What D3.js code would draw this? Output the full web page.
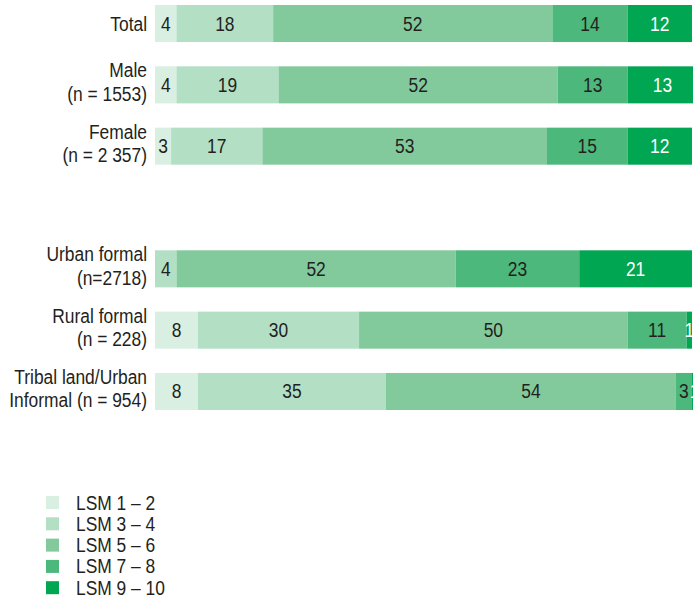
<!DOCTYPE html>
<html>
<head>
<meta charset="utf-8">
<script src="https://cdn.jsdelivr.net/npm/d3@7"></script>
<style>
  html, body { margin: 0; padding: 0; background: #fff; }
  svg { display: block; }
  text { font-family: "Liberation Sans", Arial, sans-serif; fill: #231f20; font-size: 20px; }
</style>
</head>
<body>
<svg id="chart" width="693" height="598"></svg>
<script>
// ---- data ----
const categories = ["Total", "Male", "Female", "", "Urban formal", "Rural formal", "Tribal land"];
const categoryLabels = [
  ["Total"],
  ["Male", "(n = 1553)"],
  ["Female", "(n = 2 357)"],
  [],
  ["Urban formal", "(n=2718)"],
  ["Rural formal", "(n = 228)"],
  ["Tribal land/Urban", "Informal (n = 954)"]
];
const seriesNames = ["LSM 1 – 2", "LSM 3 – 4", "LSM 5 – 6", "LSM 7 – 8", "LSM 9 – 10"];
const lsm12  = [4, 4, 3, null, 0, 8, 8];
const lsm34  = [18, 19, 17, null, 4, 30, 35];
const lsm56  = [52, 52, 53, null, 52, 50, 54];
const lsm78  = [14, 13, 15, null, 23, 11, 3];
const lsm910 = [12, 13, 12, null, 21, 1, 1];
const seriesValues = [lsm12, lsm34, lsm56, lsm78, lsm910];
const colors = ["#d9efe1", "#b3dfc5", "#82ca9c", "#4cb87b", "#00a651"];
const labelColors = ["#231f20", "#231f20", "#231f20", "#231f20", "#ffffff"];

// ---- layout ----
const svg = d3.select("#chart");
const x = d3.scaleLinear().domain([0, 100]).range([155, 692]);
const y = d3.scaleBand().domain(categories).range([5, 410]).paddingInner(0.396).paddingOuter(0);
const SX = 0.87;

function narrowText(parent, tx, ty, str, anchor, color) {
  const t = parent.append("text")
    .attr("transform", `translate(${tx},${ty}) scale(${SX},1)`)
    .attr("text-anchor", anchor || "start")
    .text(str);
  if (color) t.style("fill", color);
  return t;
}

const rows = categories.map((c, i) => {
  if (lsm12[i] === null) return null;
  let acc = 0;
  const segs = seriesValues.map((vals, s) => {
    const v = vals[i];
    const seg = { cat: c, s, v, x0: acc, x1: acc + v };
    acc += v;
    return seg;
  }).filter(d => d.v > 0);
  return { cat: c, i, segs };
}).filter(Boolean);

const g = svg.append("g");
rows.forEach(r => {
  const rg = g.append("g");
  rg.selectAll("rect").data(r.segs).join("rect")
    .attr("x", d => x(d.x0))
    .attr("y", y(r.cat))
    .attr("width", d => x(d.x1) - x(d.x0))
    .attr("height", y.bandwidth())
    .attr("fill", d => colors[d.s]);
  r.segs.forEach(d => {
    narrowText(rg, (x(d.x0) + x(d.x1)) / 2, y(r.cat) + y.bandwidth() / 2 + 7, d.v, "middle", labelColors[d.s]);
  });
});

// category labels
categories.forEach((c, i) => {
  const lines = categoryLabels[i];
  if (!lines.length) return;
  const cy = y(c) + y.bandwidth() / 2;
  if (lines.length === 1) {
    narrowText(svg, 147, cy + 7, lines[0], "end");
  } else {
    narrowText(svg, 147, cy - 7.5, lines[0], "end");
    narrowText(svg, 147, cy + 16, lines[1], "end");
  }
});

// legend
const legend = svg.append("g").attr("transform", "translate(46,496)");
seriesNames.forEach((name, i) => {
  const li = legend.append("g").attr("transform", `translate(0,${i * 21.3})`);
  li.append("rect").attr("width", 13).attr("height", 13).attr("fill", colors[i]);
  narrowText(li, 30, 13.5, name, "start");
});
</script>
</body>
</html>
